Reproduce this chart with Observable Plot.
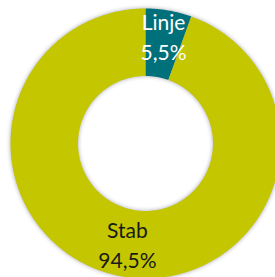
<!DOCTYPE html>
<html>
<head>
<meta charset="utf-8">
<script src="https://cdn.jsdelivr.net/npm/d3@7"></script>
<script src="https://cdn.jsdelivr.net/npm/@observablehq/plot@0.6"></script>
<style>
  html, body { margin: 0; padding: 0; background: #fff; }
  svg { display: block; overflow: hidden; }
  g[aria-label="line"] { filter: drop-shadow(0px 0px 2px rgba(60,60,90,0.45)); }
</style>
</head>
<body>
<div id="chart"></div>
<script>
const categories = ["Linje", "Stab"];
const values = [5.5, 94.5];
const valueLabels = ["5,5%", "94,5%"];
const sliceColors = ["#00707A", "#C4C600"];
const textColors = ["#ffffff", "#1a1a1a"];

const innerRatio = 0.5;
const labelRadius = 0.78;

const pie = d3.pie().sort(null).value(d => d.value);
const table = categories.map((c, i) => ({ category: c, value: values[i], label: valueLabels[i] }));
const arcs = pie(table);

const ringPoints = [];
arcs.forEach(a => {
  const n = Math.max(8, Math.ceil((a.endAngle - a.startAngle) / 0.01));
  for (let k = 0; k <= n; k++) {
    const t = a.startAngle + (a.endAngle - a.startAngle) * k / n;
    ringPoints.push({ category: a.data.category, x: Math.sin(t), y: Math.cos(t) });
  }
  for (let k = n; k >= 0; k--) {
    const t = a.startAngle + (a.endAngle - a.startAngle) * k / n;
    ringPoints.push({ category: a.data.category, x: innerRatio * Math.sin(t), y: innerRatio * Math.cos(t) });
  }
});

const labelData = arcs.map(a => {
  const m = (a.startAngle + a.endAngle) / 2;
  return { category: a.data.category, x: labelRadius * Math.sin(m), y: labelRadius * Math.cos(m), text: a.data.category + "\n" + a.data.label };
});

const chart = Plot.plot({
  width: 275,
  height: 277,
  margin: 0,
  x: { domain: [-1, 1], range: [10, 280], axis: null },
  y: { domain: [-1, 1], range: [278, 8], axis: null },
  color: { domain: categories, range: sliceColors },
  style: { fontFamily: "Lato, 'Open Sans', sans-serif", background: "#fff" },
  marks: [
    Plot.line(ringPoints, { x: "x", y: "y", z: "category", fill: "category", stroke: "none", curve: "linear" }),
    Plot.text(labelData, {
      x: "x", y: "y", text: "text",
      fill: d => textColors[categories.indexOf(d.category)],
      fontSize: 21, lineHeight: 1.42, dy: -4
    })
  ]
});
document.getElementById("chart").appendChild(chart);
</script>
</body>
</html>
